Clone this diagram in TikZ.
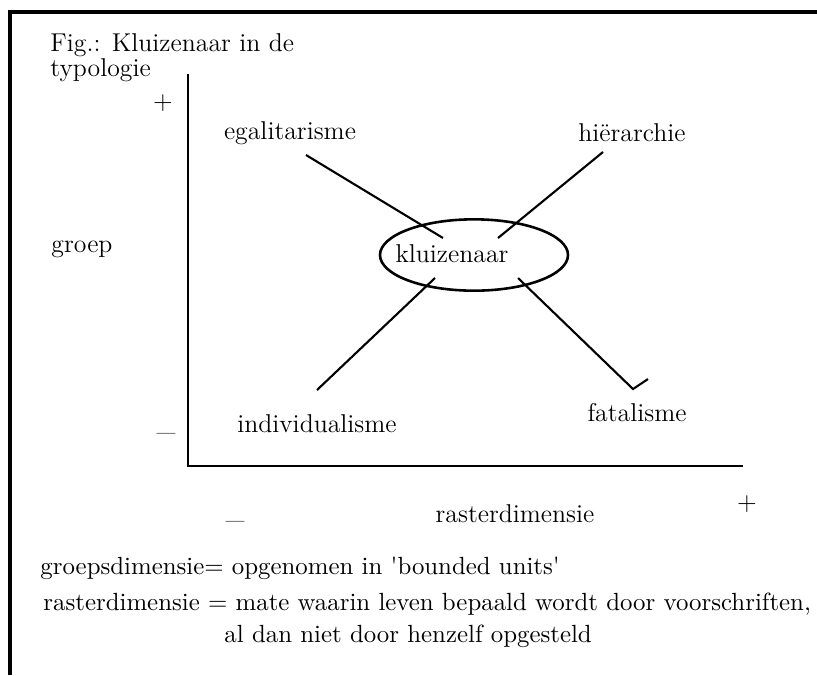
\documentclass[tikz,border=0pt]{standalone}
\usepackage{tikz}
\usetikzlibrary{shapes.geometric}

\tikzset{
    lbl/.style={font=\fontsize{11}{10.7}\selectfont, inner sep=0pt},
    deftext/.style={font=\fontsize{10.6}{12}\selectfont, inner sep=0pt, anchor=west},
    frame/.style={line width=1.3pt},
    axis/.style={line width=1.2pt},
    link/.style={line width=0.9pt}
}

\begin{document}
\begin{tikzpicture}[x=0.015cm,y=-0.015cm]
            \useasboundingbox (0,0) rectangle (817,675);
            \draw[frame] (10,675) -- (10,12) -- (817,12);

            % title
            \node[lbl, anchor=north west, align=left] (title) at (50,33) {Fig.: Kluizenaar in de\\typologie};

            % axes
            \coordinate (top) at (188,74);
            \coordinate (orig) at (188,466);
            \coordinate (right) at (743,466);
            \draw[axis] (top) -- (orig) -- (right);

            \node[lbl] (plus1) at (163,103) {+};
            \node[lbl, anchor=base] (min1) at (166,430) {\_};
            \node[lbl] (plus2) at (747,504) {+};
            \node[lbl, anchor=base] (min2) at (235,518) {\_};
            \node[lbl] (groep) at (82,249) {groep};
            \node[lbl] (raster) at (515,514) {rasterdimensie};

            % types
            \foreach \n/\x/\y/\t in {egal/290/133/egalitarisme, hier/632/133/hiërarchie,
                    indiv/317/424/individualisme, fatal/637/413/fatalisme} {
                    \node[lbl] (\n) at (\x,\y) {\t};
                }

            \node[draw, ellipse, line width=1.1pt, minimum width=2.82cm, minimum height=1.07cm] (kl) at (474,255) {};
            \node[lbl] (kltext) at (452,254) {kluizenaar};

            \coordinate (e1) at (306,155); \coordinate (e2) at (443,238);
            \coordinate (h1) at (603,152); \coordinate (h2) at (498,238);
            \coordinate (i1) at (317,390); \coordinate (i2) at (435,278);
            \coordinate (f1) at (518,278); \coordinate (f2) at (633,389);
            \draw[link] (e1) -- (e2);
            \draw[link] (h1) -- (h2);
            \draw[link] (i1) -- (i2);
            \draw[link] (f1) -- (f2) -- (648,379);

            % definitions
            \node[deftext] (def1) at (40,568) {groepsdimensie= opgenomen in \textquotesingle bounded units\textquotesingle};
            \node[deftext] (def2) at (43,604) {rasterdimensie = mate waarin leven bepaald wordt door voorschriften,};
            \node[deftext] (def3) at (224,636) {al dan niet door henzelf opgesteld};
        \end{tikzpicture}
\end{document}
